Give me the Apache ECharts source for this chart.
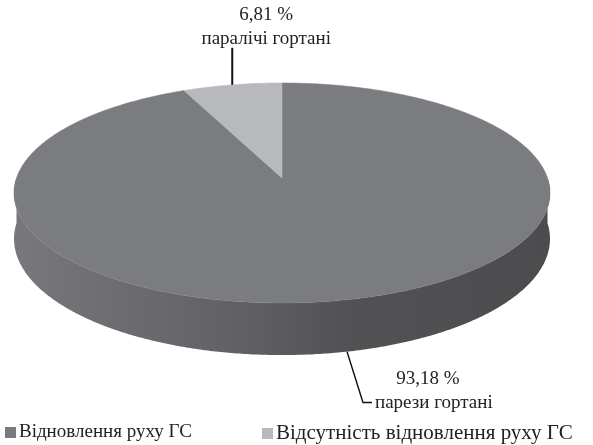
<!DOCTYPE html>
<html><head><meta charset="utf-8">
<script src="https://cdn.jsdelivr.net/npm/echarts@6/dist/echarts.min.js"></script>
<style>html,body{margin:0;padding:0;background:#fff}#c{width:593px;height:445px}</style>
</head><body><div id="c"></div>
<script>
const categories = ['Відновлення руху ГС', 'Відсутність відновлення руху ГС'];
const values = [93.18, 6.81];
const labelNames = ['парези гортані', 'паралічі гортані'];

const topColors = ['#7b7c80', '#b8b9bd'];
const legendColors = ['#7b7b7f', '#b9b9bd'];
const FONT = '"Liberation Serif", "DejaVu Serif", serif';

// projection of a tilted disc (perspective)
const P = {cx: 282, cy: 178, sx: 265.5, a: 108, k: 0.136, H: 45};
function proj(deg, r, down) {
  const t = deg * Math.PI / 180;
  const X = r * Math.sin(t), D = r * Math.cos(t);
  const s = 1 / (1 + P.k * D);
  return [P.cx + P.sx * X * s, P.cy - P.a * D * s + (down ? P.H * s : 0)];
}
const total = values.reduce((a, b) => a + b, 0);

function fmt(v) { return v.toFixed(2).replace('.', ',') + ' %'; }

function makeRender(i) {
  return function (params, api) {
    const v = api.value(0);
    let start = 0;
    for (let j = 0; j < i; j++) start += values[j];
    const a0 = 360 * start / total, a1 = a0 + 360 * v / total;
    const children = [];
    // side (front rim only)
    const s0 = Math.max(a0, 90), s1 = Math.min(a1, 270);
    if (s1 > s0) {
      const pts = [];
      for (let d = s0; d <= s1 + 1e-9; d += 0.5) pts.push(proj(Math.min(d, s1), 1, false));
      for (let d = s1; d >= s0 - 1e-9; d -= 0.5) pts.push(proj(Math.max(d, s0), 1, true));
      children.push({
        type: 'polygon', z2: 1, shape: {points: pts},
        style: {fill: {type: 'linear', x: 14, y: 0, x2: 550, y2: 0, global: true,
          colorStops: [{offset: 0, color: '#78787c'}, {offset: 0.45, color: '#5f5f63'},
                       {offset: 0.62, color: '#525255'}, {offset: 1, color: '#4c4c4f'}]}}
      });
    }
    // top face
    const tp = [proj(0, 0, false)];
    const n = Math.max(2, Math.ceil((a1 - a0) * 2));
    for (let q = 0; q <= n; q++) tp.push(proj(a0 + (a1 - a0) * q / n, 1, false));
    children.push({type: 'polygon', z2: 10, shape: {points: tp},
      style: {fill: topColors[i], stroke: topColors[i], lineWidth: 0.5}});
    // label
    const m = (a0 + a1) / 2;
    const back = Math.cos(m * Math.PI / 180) > 0;
    const textStyle = {fill: '#222', font: '19px ' + FONT};
    if (back) {
      const p = proj(m, 1, false);
      children.push({type: 'line', z2: 20, shape: {x1: p[0], y1: p[1], x2: p[0], y2: p[1] - 37},
        style: {stroke: '#111', lineWidth: 2}});
      children.push({type: 'text', z2: 20, style: Object.assign({text: fmt(v), x: p[0] + 34, y: p[1] - 70, align: 'center', verticalAlign: 'middle'}, textStyle)});
      children.push({type: 'text', z2: 20, style: Object.assign({text: labelNames[i], x: p[0] + 34, y: p[1] - 46, align: 'center', verticalAlign: 'middle'}, textStyle)});
    } else {
      const p = proj(m, 1, true);
      children.push({type: 'polyline', z2: 20, shape: {points: [[p[0], p[1]], [p[0] + 16, p[1] + 51], [p[0] + 25, p[1] + 51]]},
        style: {stroke: '#111', lineWidth: 1.5, fill: null}});
      children.push({type: 'text', z2: 20, style: Object.assign({text: fmt(v), x: p[0] + 81, y: p[1] + 27, align: 'center', verticalAlign: 'middle'}, textStyle)});
      children.push({type: 'text', z2: 20, style: Object.assign({text: labelNames[i], x: p[0] + 28, y: p[1] + 51, align: 'left', verticalAlign: 'middle'}, textStyle)});
    }
    return {type: 'group', children: children};
  };
}

const chart = echarts.init(document.getElementById('c'), null, {renderer: 'canvas'});
chart.setOption({
  animation: false,
  legend: [
    {data: [categories[0]], left: 0, top: 418, itemWidth: 11, itemHeight: 11, itemGap: 0, icon: 'rect',
     textStyle: {fontFamily: FONT, fontSize: 19, color: '#222', padding: [0, 0, 0, -2]}},
    {data: [categories[1]], left: 257, top: 418, itemWidth: 11, itemHeight: 11, itemGap: 0, icon: 'rect',
     textStyle: {fontFamily: FONT, fontSize: 21, color: '#222', padding: [0, 0, 0, -2]}}
  ],
  series: categories.map((name, i) => ({
    type: 'custom', name: name, coordinateSystem: 'none',
    itemStyle: {color: legendColors[i]},
    data: [[values[i]]],
    renderItem: makeRender(i),
    silent: true
  }))
});
</script></body></html>
